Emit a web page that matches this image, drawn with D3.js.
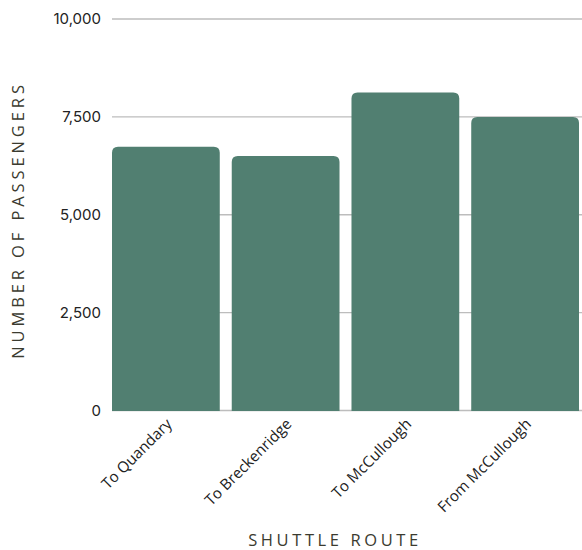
<!DOCTYPE html>
<html>
<head>
<meta charset="utf-8">
<script src="https://cdn.jsdelivr.net/npm/d3@7"></script>
<style>
  html, body { margin: 0; padding: 0; background: #fff; }
  svg { display: block; }
</style>
</head>
<body>
<svg id="chart" width="582" height="550"></svg>
<script>
// Passenger counts per shuttle route
const routes = ["To Quandary", "To Breckenridge", "To McCullough", "From McCullough"];
const passengers = [6740, 6500, 8120, 7500];
const yTicks = [0, 2500, 5000, 7500, 10000];

const svg = d3.select("#chart");
const W = 582, H = 550;
const plot = { left: 112, right: 579, top: 19, bottom: 410.5 };

const x = d3.scaleBand()
  .domain(routes)
  .range([plot.left, plot.right])
  .paddingInner(0.1)
  .paddingOuter(0);

const y = d3.scaleLinear()
  .domain([0, 10000])
  .range([plot.bottom, plot.top]);

// Horizontal grid lines
svg.append("g")
  .selectAll("line")
  .data(yTicks)
  .join("line")
  .attr("x1", plot.left)
  .attr("x2", W)
  .attr("y1", d => y(d))
  .attr("y2", d => y(d))
  .attr("stroke", "#bdbdbd")
  .attr("stroke-width", 1.4);

// Y tick labels
svg.append("g")
  .selectAll("text")
  .data(yTicks)
  .join("text")
  .attr("x", 101)
  .attr("y", d => y(d))
  .attr("dy", "0.35em")
  .attr("text-anchor", "end")
  .attr("font-family", "Inter, 'Open Sans', sans-serif")
  .attr("font-size", 15)
  .attr("fill", "#222")
  .text(d => d3.format(",")(d));

// Bars with rounded top corners
function barPath(x0, w, yTop, yBase, r) {
  r = Math.min(r, w / 2, yBase - yTop);
  return `M${x0},${yBase}` +
    `V${yTop + r}` +
    `Q${x0},${yTop} ${x0 + r},${yTop}` +
    `H${x0 + w - r}` +
    `Q${x0 + w},${yTop} ${x0 + w},${yTop + r}` +
    `V${yBase}Z`;
}

svg.append("g")
  .selectAll("path")
  .data(routes.map((r, i) => ({ route: r, value: passengers[i] })))
  .join("path")
  .attr("d", d => barPath(x(d.route), x.bandwidth(), y(d.value), y(0) + 0.5, 6))
  .attr("fill", "#517f71");

// Category labels, rotated
svg.append("g")
  .selectAll("text")
  .data(routes)
  .join("text")
  .attr("transform", d => `translate(${x(d) + x.bandwidth() / 2 + 7},${425}) rotate(-45)`)
  .attr("text-anchor", "end")
  .attr("font-family", "'Open Sans', sans-serif")
  .attr("font-size", 15.2)
  .attr("fill", "#222")
  .text(d => d);

// Axis titles
svg.append("text")
  .attr("x", 335)
  .attr("y", 545.5)
  .attr("text-anchor", "middle")
  .attr("font-family", "'Open Sans', sans-serif")
  .attr("font-size", 16.5)
  .attr("letter-spacing", 3.6)
  .attr("fill", "#3b3b30")
  .text("SHUTTLE ROUTE");

svg.append("text")
  .attr("transform", `translate(24,${220}) rotate(-90)`)
  .attr("text-anchor", "middle")
  .attr("font-family", "'Open Sans', sans-serif")
  .attr("font-size", 16.5)
  .attr("letter-spacing", 3.9)
  .attr("fill", "#3b3b30")
  .text("NUMBER OF PASSENGERS");
</script>
</body>
</html>
